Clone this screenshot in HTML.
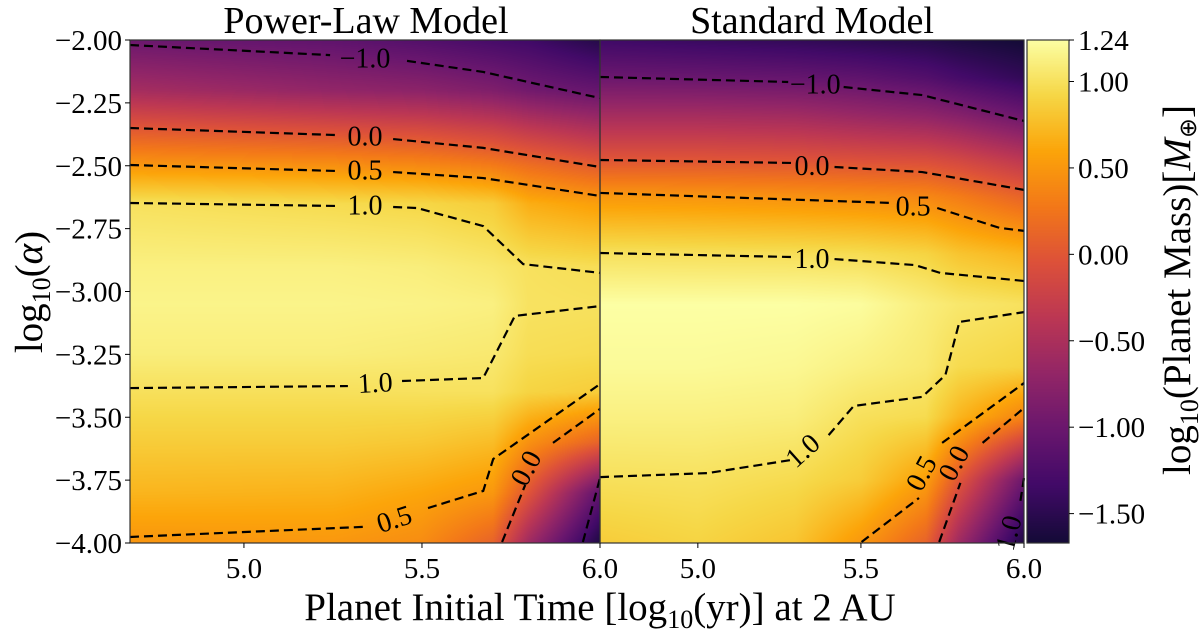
<!DOCTYPE html>
<html><head><meta charset="utf-8">
<style>
html,body{margin:0;padding:0;background:#fff;}
#wrap{position:relative;width:1200px;height:634px;overflow:hidden;font-family:"Liberation Serif",serif;}
canvas{position:absolute;}
svg{position:absolute;left:0;top:0;}
</style></head>
<body>
<div id="wrap">
<canvas id="cL" width="470" height="503" style="left:130px;top:40px"></canvas>
<canvas id="cR" width="424" height="503" style="left:600px;top:40px"></canvas>
<canvas id="cB" width="42" height="503" style="left:1027px;top:40px"></canvas>
<svg id="ov" width="1200" height="634"></svg>
</div>
<script>
// ---------- data ----------
const leftXs = [4.68, 5.25, 5.5, 5.7, 5.8, 6.0];
const leftYs = [-2.0,-2.2,-2.35,-2.5,-2.65,-2.9,-3.05,-3.25,-3.4,-3.6,-3.8,-4.0];
const leftVals = [
 [-1.0,-1.1,-1.2,-1.3,-1.35,-1.55],
 [-0.55,-0.7,-0.75,-0.85,-0.95,-1.05],
 [0.0,-0.1,-0.15,-0.25,-0.35,-0.5],
 [0.5,0.45,0.4,0.3,0.2,0.05],
 [1.0,0.95,0.92,0.85,0.65,0.55],
 [1.12,1.12,1.1,1.05,1.0,0.97],
 [1.15,1.15,1.14,1.12,1.01,1.0],
 [1.1,1.1,1.08,1.06,0.97,0.95],
 [0.99,0.99,1.0,1.0,0.9,0.85],
 [0.85,0.85,0.82,0.75,0.45,0.1],
 [0.7,0.68,0.6,0.5,-0.02,-1.1],
 [0.48,0.5,0.42,0.1,-0.6,-1.6]
];
const rightXs = [4.70, 5.0, 5.3, 5.5, 5.7, 5.8, 6.0];
const rightYs = [-2.0,-2.15,-2.3,-2.48,-2.62,-2.85,-3.05,-3.3,-3.5,-3.75,-4.0];
const rightVals = [
 [-1.35,-1.4,-1.45,-1.5,-1.55,-1.6,-1.68],
 [-1.0,-1.02,-1.05,-1.1,-1.2,-1.3,-1.45],
 [-0.55,-0.55,-0.58,-0.65,-0.72,-0.8,-1.0],
 [0.0,0.0,-0.02,-0.05,-0.08,-0.15,-0.35],
 [0.5,0.48,0.45,0.42,0.38,0.3,0.1],
 [1.0,0.99,0.98,0.96,0.9,0.8,0.7],
 [1.24,1.24,1.24,1.22,1.1,1.05,1.0],
 [1.2,1.2,1.18,1.12,1.06,0.95,0.9],
 [1.12,1.12,1.1,0.99,0.95,0.7,0.35],
 [0.99,1.0,0.95,0.85,0.55,0.0,-1.0],
 [0.85,0.9,0.8,0.5,0.1,-0.6,-1.6]
];
const leftContours = [
 [[4.68,-2.02],[5.242,-2.06]],
 [[5.458,-2.083],[5.672,-2.127],[6.0,-2.231]],
 [[4.68,-2.35],[5.261,-2.378]],
 [[5.419,-2.394],[5.672,-2.429],[6.0,-2.505]],
 [[4.68,-2.497],[5.264,-2.521]],
 [[5.419,-2.525],[5.672,-2.549],[6.0,-2.62]],
 [[4.68,-2.648],[5.264,-2.66]],
 [[5.419,-2.664],[5.486,-2.668],[5.672,-2.74],[5.784,-2.891],[6.0,-2.926]],
 [[4.68,-3.384],[5.292,-3.376]],
 [[5.444,-3.356],[5.672,-3.344],[5.761,-3.097],[6.0,-3.058]],
 [[4.68,-3.976],[5.334,-3.936]],
 [[5.517,-3.861],[5.672,-3.793],[5.70,-3.666],[5.804,-3.563],[6.0,-3.368]],
 [[5.725,-3.996],[5.79,-3.769]],
 [[5.868,-3.602],[6.0,-3.467]],
 [[5.952,-3.996],[6.0,-3.742]]
];
const leftLabels = [["−1.0",5.34,-2.07,0],["0.0",5.34,-2.38,0],["0.5",5.34,-2.515,0],["1.0",5.34,-2.655,0],["1.0",5.37,-3.36,-3],["0.5",5.43,-3.90,-18],["0.0",5.815,-3.68,-62]];
const rightContours = [
 [[4.70,-2.147],[5.277,-2.167]],
 [[5.447,-2.187],[5.688,-2.219],[6.0,-2.322]],
 [[4.70,-2.477],[5.293,-2.489]],
 [[5.419,-2.505],[5.688,-2.525],[6.0,-2.596]],
 [[4.70,-2.608],[5.595,-2.648]],
 [[5.734,-2.668],[5.925,-2.747],[6.0,-2.759]],
 [[4.70,-2.847],[5.293,-2.863]],
 [[5.419,-2.871],[5.666,-2.895],[5.743,-2.926],[6.0,-2.958]],
 [[4.70,-3.738],[5.03,-3.722],[5.286,-3.67]],
 [[5.401,-3.571],[5.478,-3.455],[5.688,-3.419],[5.759,-3.332],[5.802,-3.121],[6.0,-3.082]],
 [[5.502,-3.996],[5.678,-3.821]],
 [[5.749,-3.602],[6.0,-3.364]],
 [[5.74,-3.996],[5.805,-3.761]],
 [[5.873,-3.602],[6.0,-3.463]],
 [[6.0,-3.742],[5.988,-3.841]]
];
const rightLabels = [["−1.0",5.36,-2.172,0],["0.0",5.35,-2.497,0],["0.5",5.66,-2.658,0],["1.0",5.35,-2.867,0],["1.0",5.34,-3.62,-42],["0.5",5.71,-3.70,-62],["0.0",5.81,-3.66,-62],["1.0",5.98,-3.93,-75]];
const yTicks = [-2.00,-2.25,-2.50,-2.75,-3.00,-3.25,-3.50,-3.75,-4.00];
const xTicks = [5.0,5.5,6.0];
const cbTicks = [1.24,1.00,0.50,0.00,-0.50,-1.00,-1.50];

// ---------- scales ----------
const Y0=40, Y1=543;
const yS = v => Y0 + (-2 - v)/2*(Y1-Y0);
const L = {x0:130, x1:600, d0:4.68, d1:6.0};
const R = {x0:600, x1:1024, d0:4.70, d1:6.0};
const xS = (p,v) => p.x0 + (v-p.d0)/(p.d1-p.d0)*(p.x1-p.x0);
const VMIN=-1.98, VMAX=1.24;
const CB0=-1.67;
const cbY = v => Y0 + (VMAX - v)/(VMAX-CB0)*(Y1-Y0);

const stops=[[0,0,0,4],[0.1,22,11,57],[0.2,66,10,104],[0.3,106,23,110],[0.4,147,38,103],[0.5,188,55,84],[0.6,221,81,58],[0.7,243,120,25],[0.8,252,165,10],[0.9,246,215,70],[1,252,255,164]];
function cmap(v){
  let t=(v-VMIN)/(VMAX-VMIN); t=Math.max(0,Math.min(1,t));
  for(let i=1;i<stops.length;i++){ if(t<=stops[i][0]){const a=stops[i-1],b=stops[i],f=(t-a[0])/(b[0]-a[0]);
    return [a[1]+f*(b[1]-a[1]),a[2]+f*(b[2]-a[2]),a[3]+f*(b[3]-a[3])];}}
  return stops[stops.length-1].slice(1);
}
function locate(arr,v,desc){
  for(let i=0;i<arr.length-1;i++){const a=arr[i],b=arr[i+1];
    if(desc? (v<=a&&v>=b):(v>=a&&v<=b)) return [i,(v-a)/(b-a)];}
  return v< arr[0]!==desc ? [0,0]:[arr.length-2,1];
}
function field(xs,ys,vals,x,y){
  const [i,fx]=locate(xs,x,false),[j,fy]=locate(ys,y,true);
  const a=vals[j][i],b=vals[j][i+1],c=vals[j+1][i],d=vals[j+1][i+1];
  return (a*(1-fx)+b*fx)*(1-fy)+(c*(1-fx)+d*fx)*fy;
}
function drawHeat(id,p,xs,ys,vals){
  const cv=document.getElementById(id),ctx=cv.getContext('2d');
  const W=cv.width,H=cv.height,img=ctx.createImageData(W,H);
  for(let py=0;py<H;py++){const y=-2-(py+0.5)/H*2;
    for(let px=0;px<W;px++){const x=p.d0+(px+0.5)/W*(p.d1-p.d0);
      const c=cmap(field(xs,ys,vals,x,y)),k=(py*W+px)*4;
      img.data[k]=c[0];img.data[k+1]=c[1];img.data[k+2]=c[2];img.data[k+3]=255;}}
  ctx.putImageData(img,0,0);
}
drawHeat('cL',L,leftXs,leftYs,leftVals);
drawHeat('cR',R,rightXs,rightYs,rightVals);
(function(){const cv=document.getElementById('cB'),ctx=cv.getContext('2d');
  for(let py=0;py<cv.height;py++){const v=VMAX-(py+0.5)/cv.height*(VMAX-CB0);const c=cmap(v);
    ctx.fillStyle=`rgb(${c[0]|0},${c[1]|0},${c[2]|0})`;ctx.fillRect(0,py,cv.width,1);}})();

// ---------- svg ----------
const NS='http://www.w3.org/2000/svg', svg=document.getElementById('ov');
function el(tag,attrs,parent){const e=document.createElementNS(NS,tag);for(const k in attrs)e.setAttribute(k,attrs[k]);(parent||svg).appendChild(e);return e;}
function txt(s,x,y,size,anchor,parent,rot){const t=el('text',{x:x,y:y,'font-size':size,'text-anchor':anchor||'middle','font-family':'"Liberation Serif",serif',fill:'#000'},parent);
  if(rot) t.setAttribute('transform',`rotate(${rot} ${x} ${y})`); t.textContent=s; return t;}

function contours(p,segs,labels,name){
  const g=el('g',{});
  
  
  segs.forEach(s=>{const pl=el('polyline',{points:s.map(q=>xS(p,q[0])+','+yS(q[1])).join(' '),fill:'none',stroke:'#000','stroke-width':2.2,'stroke-dasharray':'9,5'},g);
    
    });
  labels.forEach(l=>{const t=txt(l[0],xS(p,l[1]),yS(l[2])+10,28,'middle',g,l[3]);
    
    });
}
contours(L,leftContours,leftLabels,'power-law-contours');
contours(R,rightContours,rightLabels,'standard-contours');

[[130,600],[600,1024],[1027,1069]].forEach((f,i)=>{const r=el('rect',{x:f[0],y:Y0,width:f[1]-f[0],height:Y1-Y0,fill:'none',stroke:'#333','stroke-width':1.2});
  
  });

yTicks.forEach(v=>{const y=yS(v);el('line',{x1:125,x2:130,y1:y,y2:y,stroke:'#000','stroke-width':1});
  const t=txt((v<0?'−':'')+Math.abs(v).toFixed(2),122,y+10,29,'end');
  
  });
[L,R].forEach(p=>xTicks.forEach(v=>{const x=xS(p,v);el('line',{x1:x,x2:x,y1:543,y2:548,stroke:'#000','stroke-width':1});
  const t=txt(v.toFixed(1),x,578,29,'middle');
  
  }));
cbTicks.forEach(v=>{const y=cbY(v);el('line',{x1:1069,x2:1074,y1:y,y2:y,stroke:'#000','stroke-width':1});
  const t=txt((v<0?'−':'')+Math.abs(v).toFixed(2),1078,y+10,29,'start');
  
  });

let t;
t=txt('Power-Law Model',366,33,38);
t=txt('Standard Model',812,33,38);
t=el('text',{x:0,y:0,'font-size':39,'text-anchor':'middle','font-family':'"Liberation Serif",serif',transform:'translate(42 292) rotate(-90)'});
t.innerHTML='log<tspan font-size="26" dy="8">10</tspan><tspan dy="-8">(</tspan><tspan font-style="italic">α</tspan>)';

t=el('text',{x:600,y:620,'font-size':39,'text-anchor':'middle','font-family':'"Liberation Serif",serif'});
t.innerHTML='Planet Initial Time [log<tspan font-size="26" dy="8">10</tspan><tspan dy="-8">(yr)] at 2 AU</tspan>';

t=el('text',{x:0,y:0,'font-size':39,'text-anchor':'middle','font-family':'"Liberation Serif",serif',transform:'translate(1190 290) rotate(-90)'});
t.innerHTML='log<tspan font-size="26" dy="8">10</tspan><tspan dy="-8">(Planet Mass)[</tspan><tspan font-style="italic">M</tspan><tspan font-size="24" dy="6">⊕</tspan><tspan dy="-6">]</tspan>';

</script>
</body></html>
